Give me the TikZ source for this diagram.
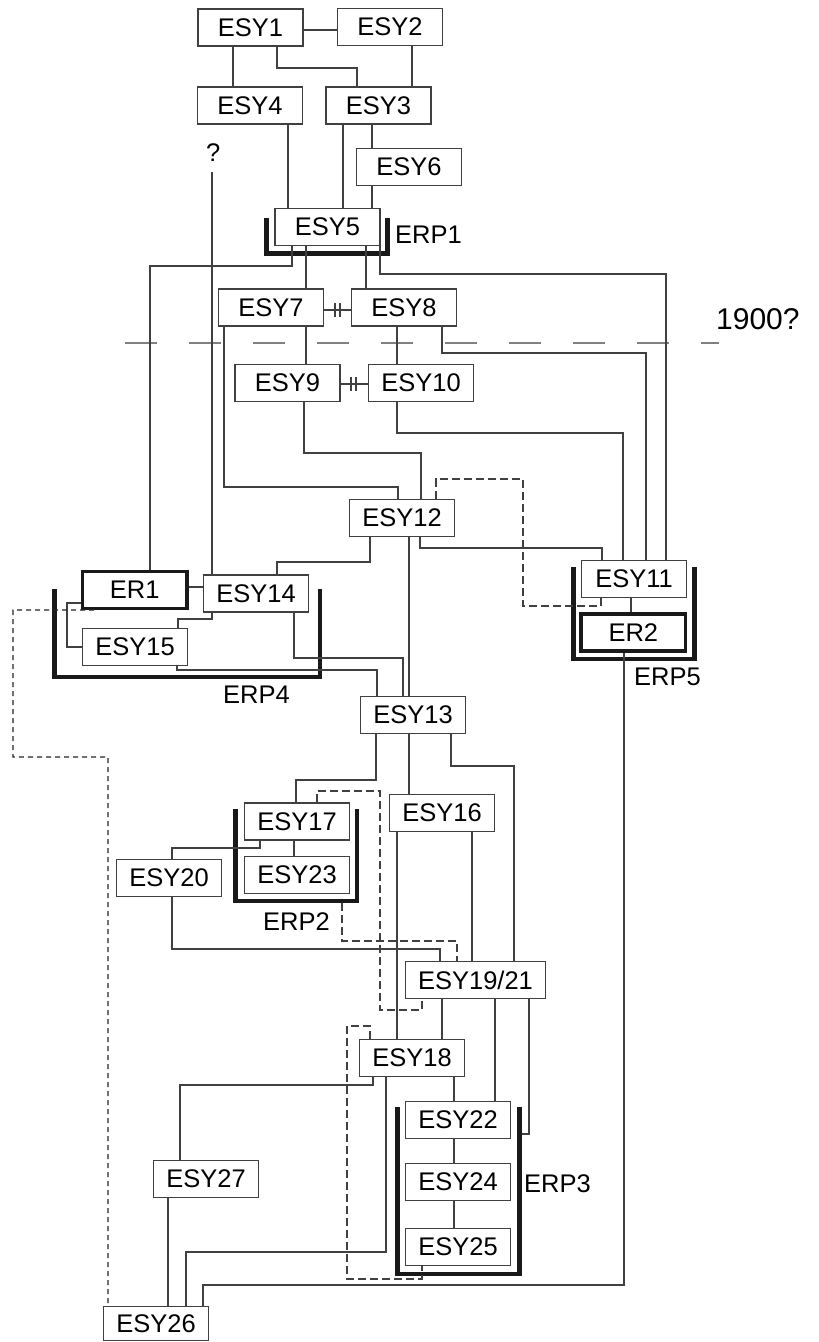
\documentclass[tikz,border=0pt]{standalone}
\usepackage{fontspec}
\setmainfont{Liberation Sans}
\usepackage{tikz}

\begin{document}
\begin{tikzpicture}[x=1pt,y=-1pt]
\tikzstyle{every node}+=[inner sep=0pt, font=\fontsize{25.5pt}{30pt}\selectfont]
\tikzstyle{box}=[draw=black!75, line width=1.3pt, minimum width=105pt, minimum height=37pt]
\tikzstyle{erbox}=[draw=black!90, line width=3.5pt, minimum width=104.7pt, minimum height=36.6pt]
\tikzstyle{link}=[draw=black!75, line width=1.3pt]
\tikzstyle{dlink}=[link, dash pattern=on 8pt off 4pt]
\tikzstyle{dotlink}=[link, draw=black!85, dash pattern=on 5pt off 4pt]
\tikzstyle{bracket}=[draw=black!90, line width=4.5pt, line join=miter]
\fill [white] (0,0) rectangle (819,1342);
\useasboundingbox (0,0) rectangle (819,1342);
\draw (250.5,27.5) node [box] (esy1) {ESY1};
\draw (390,27) node [box] (esy2) {ESY2};
\draw (250,105.5) node [box] (esy4) {ESY4};
\draw (378.5,105.5) node [box] (esy3) {ESY3};
\draw (409,167) node [box] (esy6) {ESY6};
\draw (327.5,227) node [box] (esy5) {ESY5};
\draw (271,307.5) node [box] (esy7) {ESY7};
\draw (404,307.5) node [box] (esy8) {ESY8};
\draw (287.5,383) node [box] (esy9) {ESY9};
\draw (421,383) node [box] (esy10) {ESY10};
\draw (402,518) node [box] (esy12) {ESY12};
\draw (634,579) node [box] (esy11) {ESY11};
\draw (633.3,632.5) node [erbox] (er2) {ER2};
\draw (134.7,590) node [erbox] (er1) {ER1};
\draw (256,593.5) node [box] (esy14) {ESY14};
\draw (135,647) node [box] (esy15) {ESY15};
\draw (413,715) node [box] (esy13) {ESY13};
\draw (442,813) node [box] (esy16) {ESY16};
\draw (297,821.5) node [box] (esy17) {ESY17};
\draw (297,875) node [box] (esy23) {ESY23};
\draw (169,878) node [box] (esy20) {ESY20};
\draw (475.5,980) node [box, minimum width=140pt] (esy19) {ESY19/21};
\draw (412,1058) node [box] (esy18) {ESY18};
\draw (458,1120) node [box] (esy22) {ESY22};
\draw (458,1182) node [box] (esy24) {ESY24};
\draw (458,1247) node [box] (esy25) {ESY25};
\draw (206,1179) node [box] (esy27) {ESY27};
\draw (156,1323.5) node [box, minimum height=34pt] (esy26) {ESY26};
\draw (206,161.7) node [anchor=base west] (unknown) {?};
\draw (395,243) node [anchor=base west] (erp1) {ERP1};
\draw (223,703) node [anchor=base west] (erp4) {ERP4};
\draw (634,685) node [anchor=base west] (erp5) {ERP5};
\draw (263,930) node [anchor=base west] (erp2) {ERP2};
\draw (524,1192) node [anchor=base west] (erp3) {ERP3};
\draw (716,329) node [anchor=base west, font=\fontsize{30pt}{35pt}\selectfont] (year) {1900?};
\draw [gray, line width=2.7pt, dash pattern=on 32pt off 32pt] (125,343) -- (719,343);
\draw [bracket] (266.7,218.3) -- (266.7,253.3) -- (387.7,253.3) -- (387.7,218.3);
\draw [bracket] (54.7,589.3) -- (54.7,677) -- (320,677) -- (320,589.3);
\draw [bracket] (573.3,566.7) -- (573.3,659) -- (694.5,659) -- (694.5,566.7);
\draw [bracket] (235.7,809.3) -- (235.7,901) -- (357,901) -- (357,809.3);
\draw [bracket] (397.7,1107) -- (397.7,1274) -- (519.3,1274) -- (519.3,1107);
\coordinate (qfoot) at (212,172);
\coordinate (erp2end) at (342,903.3);
\coordinate (erp3side) at (521.5,1134);
\draw [link] (esy1.east |- 0,30) -- (esy2.west |- 0,30);
\draw [link] (esy1.south -| 233,0) -- (esy4.north -| 233,0);
\draw [link] (esy1.south -| 277,0) -- (277,68) -- (357,68) -- (esy3.north -| 357,0);
\draw [link] (esy2.south -| 412,0) -- (esy3.north -| 412,0);
\draw [link] (esy3.south -| 372,0) -- (esy6.north -| 372,0);
\draw [link] (esy3.south -| 343,0) -- (esy5.north -| 343,0);
\draw [link] (esy4.south -| 288,0) -- (esy5.north -| 288,0);
\draw [link] (esy6.south -| 372,0) -- (esy5.north -| 372,0);
\draw [link] (qfoot) -- (esy14.north -| qfoot);
\draw [link] (esy5.south -| 292,0) -- (292,266) -- (150,266) -- (er1.north -| 150,0);
\draw [link] (esy5.south -| 306,0) -- (esy7.north -| 306,0);
\draw [link] (esy5.south -| 366,0) -- (esy8.north -| 366,0);
\draw [link] (esy5.south -| 380,0) -- (380,274) -- (666,274) -- (esy11.north -| 666,0);
\draw [link] (esy7.east |- 0,310) -- (esy8.west |- 0,310);
\draw [link] (335,303) -- (335,317) (340,303) -- (340,317);
\draw [link] (esy7.south -| 306,0) -- (esy9.north -| 306,0);
\draw [link] (esy7.south -| 224,0) -- (224,487) -- (398,487) -- (esy12.north -| 398,0);
\draw [link] (esy8.south -| 397,0) -- (esy10.north -| 397,0);
\draw [link] (esy8.south -| 442,0) -- (442,353) -- (646,353) -- (esy11.north -| 646,0);
\draw [link] (esy9.east |- 0,384) -- (esy10.west |- 0,384);
\draw [link] (351,377) -- (351,391) (356,377) -- (356,391);
\draw [link] (esy9.south -| 304,0) -- (304,453) -- (421,453) -- (esy12.north -| 421,0);
\draw [link] (esy10.south -| 397,0) -- (397,433) -- (623,433) -- (esy11.north -| 623,0);
\draw [dlink] (esy12.north -| 436,0) -- (436,479) -- (523,479) -- (523,606) -- (601,606) -- (esy11.south -| 601,0);
\draw [link] (esy12.south -| 420,0) -- (420,548) -- (602,548) -- (esy11.north -| 602,0);
\draw [link] (esy12.south -| 370,0) -- (370,562) -- (277,562) -- (esy14.north -| 277,0);
\draw [link] (esy12.south -| 409,0) -- (esy13.north -| 409,0);
\draw [link] (er1.east |- 0,587) -- (esy14.west |- 0,587);
\draw [link] (er1.west |- 0,603) -- (67,603) -- (67,647) -- (esy15.west |- 0,647);
\draw [link] (esy14.south -| 212,0) -- (212,619) -- (178,619) -- (esy15.north -| 178,0);
\draw [link] (esy14.south -| 294,0) -- (294,658) -- (403,658) -- (esy13.north -| 403,0);
\draw [link] (esy15.south -| 177,0) -- (177,670) -- (377,670) -- (esy13.north -| 377,0);
\draw [dotlink] (er1.south -| 94,0) -- (13,610) -- (13,757) -- (108,757) -- (esy26.north -| 108,0);
\draw [link] (esy11.south -| 631,0) -- (er2.north -| 631,0);
\draw [link] (er2.south -| 624,0) -- (624,1285) -- (203,1285) -- (esy26.north -| 203,0);
\draw [link] (esy13.south -| 376,0) -- (376,780) -- (296,780) -- (esy17.north -| 296,0);
\draw [link] (esy13.south -| 409,0) -- (esy16.north -| 409,0);
\draw [link] (esy13.south -| 451,0) -- (451,766) -- (514,766) -- (esy19.north -| 514,0);
\draw [link] (esy17.south -| 294,0) -- (esy23.north -| 294,0);
\draw [link] (esy17.south -| 260,0) -- (260,848) -- (172,848) -- (esy20.north -| 172,0);
\draw [link] (esy20.south -| 172,0) -- (172,949) -- (440,949) -- (esy19.north -| 440,0);
\draw [dlink] (esy17.north -| 317,0) -- (317,791) -- (380,791) -- (380,1010) -- (422,1010) -- (esy19.south -| 422,0);
\draw [dlink] (erp2end) -- (342,941) -- (457,941) -- (esy19.north -| 457,0);
\draw [link] (esy16.south -| 397,0) -- (esy18.north -| 397,0);
\draw [link] (esy16.south -| 472,0) -- (esy19.north -| 472,0);
\draw [link] (esy19.south -| 442,0) -- (esy18.north -| 442,0);
\draw [link] (esy19.south -| 495,0) -- (esy22.north -| 495,0);
\draw [link] (esy19.south -| 529,0) -- (529,1134) -- (erp3side);
\draw [dlink] (esy18.north -| 370,0) -- (370,1026) -- (347,1026) -- (347,1279) -- (422,1279) -- (esy25.south -| 422,0);
\draw [link] (esy18.south -| 373,0) -- (373,1085) -- (180,1085) -- (esy27.north -| 180,0);
\draw [link] (esy18.south -| 386,0) -- (386,1252) -- (186,1252) -- (esy26.north -| 186,0);
\draw [link] (esy18.south -| 454,0) -- (esy22.north -| 454,0);
\draw [link] (esy22.south -| 454,0) -- (esy24.north -| 454,0);
\draw [link] (esy24.south -| 454,0) -- (esy25.north -| 454,0);
\draw [link] (esy27.south -| 168,0) -- (esy26.north -| 168,0);
\end{tikzpicture}
\end{document}
